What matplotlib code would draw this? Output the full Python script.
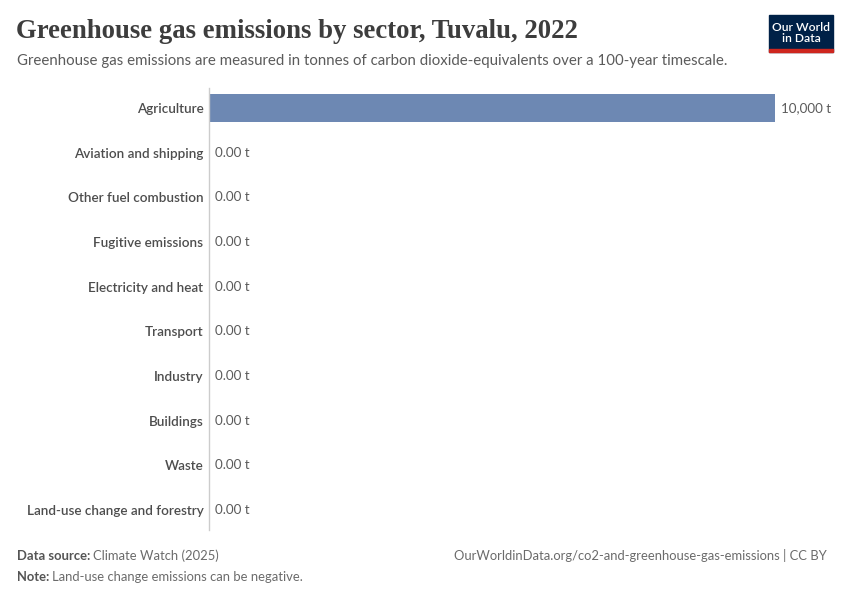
import matplotlib.pyplot as plt
from matplotlib.patches import Rectangle

sectors = ["Agriculture", "Aviation and shipping", "Other fuel combustion",
           "Fugitive emissions", "Electricity and heat", "Transport",
           "Industry", "Buildings", "Waste", "Land-use change and forestry"]
values = [10000, 0, 0, 0, 0, 0, 0, 0, 0, 0]
value_labels = ["10,000 t", "0.00 t", "0.00 t", "0.00 t", "0.00 t",
                "0.00 t", "0.00 t", "0.00 t", "0.00 t", "0.00 t"]

plt.rcParams['font.family'] = ['Lato', 'DejaVu Sans']

W, H = 850, 600
fig = plt.figure(figsize=(W / 100, H / 100), dpi=100)
ax = fig.add_axes([209 / W, 1 - 530 / H, (775 - 209) / W, (530 - 88) / H])

y = range(len(sectors))
ax.barh(list(y), values, height=0.63, color='#6D88B3', zorder=2)
ax.set_xlim(0, 10000)
ax.set_ylim(len(sectors) - 1 + 0.448, -0.448)

# value labels, offset a few pixels right of the bar end
for i, (v, lab) in enumerate(zip(values, value_labels)):
    ax.annotate(lab, (v, i), xytext=(4, 0), textcoords='offset points',
                va='center', ha='left', fontsize=9.6, color='#5b5b5b')

ax.set_yticks(list(y))
ax.set_yticklabels(sectors, fontsize=9.7, color='#4d4d4d', fontweight='semibold')
ax.tick_params(axis='y', length=0, pad=4)
ax.set_xticks([])
for s in ['top', 'right', 'bottom']:
    ax.spines[s].set_visible(False)
ax.spines['left'].set_color('#cccccc')
ax.spines['left'].set_linewidth(1)

# header
fig.text(16 / W, 1 - 32 / H, "Greenhouse gas emissions by sector, Tuvalu, 2022",
         fontsize=19.3, family=['Liberation Serif', 'DejaVu Serif'],
         fontweight='bold', color='#3d3d3d', va='center', ha='left')
fig.text(17 / W, 1 - 61 / H,
         "Greenhouse gas emissions are measured in tonnes of carbon "
         "dioxide-equivalents over a 100-year timescale.",
         fontsize=10.8, color='#5b5b5b', va='center', ha='left')

# logo
fig.patches.append(Rectangle((769 / W, 1 - 52 / H), 64 / W, 37 / H,
                             transform=fig.transFigure, color='#002147'))
fig.patches.append(Rectangle((769 / W, 1 - 52 / H), 64 / W, 3 / H,
                             transform=fig.transFigure, color='#ce261e'))
fig.text(801 / W, 1 - 33 / H, "Our World\nin Data", color='white',
         fontsize=8.7, ha='center', va='center', linespacing=1.0,
         fontweight='semibold')

# footer: bold prefix, then the plain text just after it
fs = 9.4
renderer = fig.canvas.get_renderer()


def footer_line(ypix, bold, rest):
    t = fig.text(17 / W, 1 - ypix / H, bold, fontsize=fs, color='#555555',
                 fontweight='bold', va='center', ha='left')
    x1 = t.get_window_extent(renderer).x1
    fig.text((x1 + 3) / W, 1 - ypix / H, rest, fontsize=fs,
             color='#6b6b6b', va='center', ha='left')


footer_line(556, "Data source:", "Climate Watch (2025)")
footer_line(577, "Note:", "Land-use change emissions can be negative.")
fig.text(827 / W, 1 - 556 / H,
         "OurWorldinData.org/co2-and-greenhouse-gas-emissions | CC BY",
         fontsize=fs, color='#6b6b6b', va='center', ha='right')

fig.savefig('out.png', dpi=100, facecolor='white')
